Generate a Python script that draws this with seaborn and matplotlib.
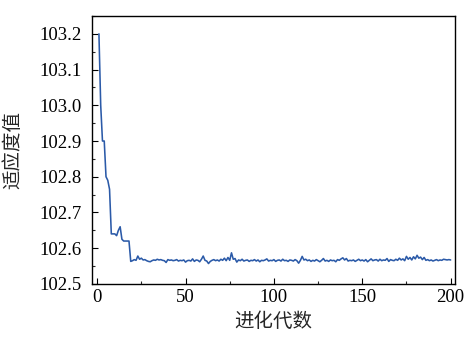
import matplotlib
matplotlib.use("Agg")
import matplotlib.pyplot as plt
import seaborn as sns
import pandas as pd
from matplotlib.ticker import MultipleLocator

generations = list(range(1, 201))
fitness = [
    103.200, 103.000, 102.900, 102.900, 102.800, 102.790, 102.765, 102.640, 102.640, 102.640,
    102.635, 102.650, 102.660, 102.625, 102.620, 102.620, 102.620, 102.620,
    102.563, 102.565, 102.568, 102.566, 102.578, 102.569, 102.572, 102.567, 102.568, 102.565,
    102.563, 102.562, 102.565, 102.567, 102.566, 102.569, 102.567, 102.568, 102.566, 102.565,
    102.560, 102.568, 102.566, 102.567, 102.565, 102.566, 102.568, 102.564, 102.566, 102.565,
    102.567, 102.561, 102.565, 102.566, 102.564, 102.570, 102.563, 102.567, 102.566, 102.562,
    102.569, 102.578, 102.566, 102.564, 102.557, 102.563, 102.566, 102.568, 102.565, 102.567,
    102.564, 102.569, 102.566, 102.572, 102.565, 102.574, 102.566, 102.587, 102.569, 102.571,
    102.561, 102.567, 102.565, 102.569, 102.564, 102.566, 102.567, 102.563, 102.566, 102.565,
    102.568, 102.564, 102.567, 102.562, 102.566, 102.565, 102.567, 102.570, 102.564, 102.566,
    102.565, 102.568, 102.563, 102.566, 102.567, 102.564, 102.569, 102.565, 102.566, 102.563,
    102.567, 102.566, 102.564, 102.568, 102.565, 102.558, 102.566, 102.577, 102.567, 102.569,
    102.565, 102.567, 102.563, 102.566, 102.564, 102.568, 102.565, 102.562, 102.566, 102.571,
    102.564, 102.566, 102.563, 102.567, 102.565, 102.566, 102.562, 102.568, 102.566, 102.570,
    102.573, 102.567, 102.571, 102.564, 102.566, 102.565, 102.567, 102.563, 102.566, 102.569,
    102.565, 102.567, 102.564, 102.568, 102.562, 102.566, 102.570, 102.565, 102.567, 102.568,
    102.564, 102.569, 102.565, 102.567, 102.566, 102.571, 102.563, 102.568, 102.566, 102.565,
    102.569, 102.566, 102.572, 102.567, 102.570, 102.565, 102.577, 102.569, 102.574, 102.567,
    102.576, 102.570, 102.580, 102.572, 102.575, 102.568, 102.574, 102.566, 102.568, 102.565,
    102.567, 102.564, 102.566, 102.568, 102.565, 102.567, 102.566, 102.569, 102.568, 102.567,
    102.568, 102.567,
]
xticks = [0, 50, 100, 150, 200]
yticks = [102.5, 102.6, 102.7, 102.8, 102.9, 103.0, 103.1, 103.2]

df = pd.DataFrame({"gen": generations, "fit": fitness})

sns.set_style("ticks")
plt.rcParams["font.family"] = ["Liberation Serif", "Noto Sans CJK SC"]
plt.rcParams["xtick.direction"] = "in"
plt.rcParams["ytick.direction"] = "in"

fig = plt.figure(figsize=(4.76, 3.4), dpi=100)
ax = fig.add_axes([0.193, 0.165, 0.763, 0.788])
sns.lineplot(data=df, x="gen", y="fit", ax=ax, color="#2b5aa8", linewidth=1.15)

ax.set_xlim(-3, 202.5)
ax.set_ylim(102.5, 103.25)
ax.set_xticks(xticks)
ax.set_yticks(yticks)
ax.set_yticklabels([f"{v:.1f}" for v in yticks])
ax.xaxis.set_minor_locator(MultipleLocator(25))
ax.yaxis.set_minor_locator(MultipleLocator(0.05))
ax.tick_params(which="major", length=4, width=0.8, labelsize=13.5, colors="black")
ax.tick_params(axis="y", which="major", pad=7.5)
ax.tick_params(axis="x", which="major", pad=3.5)
ax.tick_params(which="minor", length=2, width=0.8)
for s in ax.spines.values():
    s.set_linewidth(1.0)
    s.set_color("black")

ax.set_xlabel("进化代数", family=["Noto Sans CJK SC"], fontsize=14, labelpad=4)
ax.set_ylabel("适应度值", family=["Noto Sans CJK SC"], fontsize=14)
ax.yaxis.set_label_coords(-0.19, 0.5)

fig.savefig("out.png", dpi=100)
